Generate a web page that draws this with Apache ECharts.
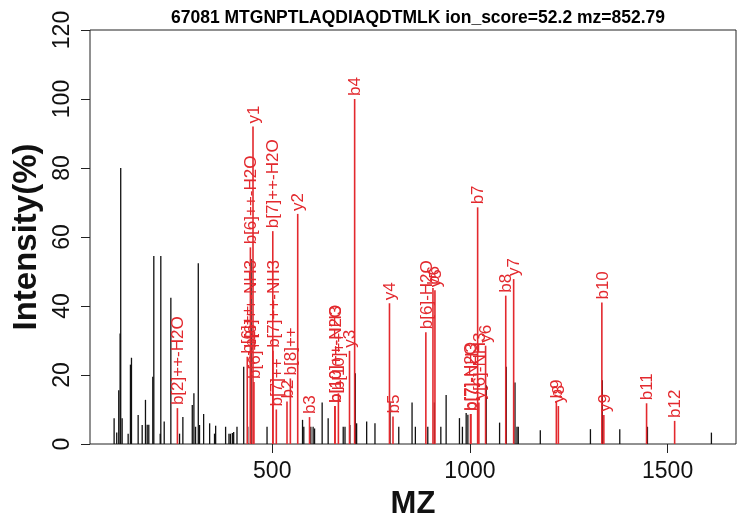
<!DOCTYPE html>
<html>
<head>
<meta charset="UTF-8">
<title>67081 MTGNPTLAQDIAQDTMLK</title>
<script src="https://cdn.jsdelivr.net/npm/echarts@6/dist/echarts.min.js"></script>
<style>
  html, body { margin: 0; padding: 0; background: #fff; }
  #chart { width: 744px; height: 527px; }
</style>
</head>
<body>
<div id="chart"></div>
<script>
// unmatched peaks (black)
var blackMz = [100, 106.6, 111.7, 115.2, 116.7, 120.3, 135.5, 141.3, 143.9, 160.8, 171, 179.3, 183.7, 187.7,
  197.8, 200.4, 216.6, 218.1, 226.7, 243.5, 265.5, 273.9, 297.7, 301.8, 306, 312.9, 316, 326.4, 341.6, 354,
  356.8, 382, 390.5, 394, 399, 402.4, 410.8, 427.8, 438, 446.5, 486.8, 576.6, 579.8, 597.6, 603.4, 607,
  626.2, 641.4, 679.5, 684, 696.4, 710, 713.4, 738.8, 759.8, 797.8, 820, 853.6, 862, 893.4, 910, 926.4,
  939.8, 973.5, 981, 990.5, 994.8, 1041.2, 1075, 1092, 1114, 1119, 1122.3, 1178, 1304.8, 1335, 1379,
  1449, 1610.8];
var blackInt = [7.5, 3.3, 15.6, 32, 80, 7.5, 3, 23, 25, 8.4, 5.5, 12.8, 5.6, 5.6,
  19.5, 54.5, 3, 54.5, 6.5, 42.4, 3, 7.8, 11.3, 14.7, 5, 52.4, 5.5, 8.7, 6, 3,
  5.3, 5, 3, 3, 3.2, 3.5, 5, 22.4, 5, 53.6, 5, 7, 5, 5, 5, 4.5,
  12, 7.5, 5, 5, 5.5, 20.5, 6, 6.5, 6, 12, 5, 12, 5, 5, 12, 5,
  14.2, 7.5, 5, 9, 8.5, 17, 6.2, 22.4, 17.8, 5, 5, 4, 4.3, 18.5, 4.3,
  5, 3.3];

// matched fragment ions (red)
var redMz = [260.1, 436.8, 444.7, 445.2, 451.3, 453.7, 501.3, 501.8, 510.3, 537.3, 545.8, 564.4, 594.3,
  658.3, 658.8, 667.3, 695.4, 708.4, 796.5, 805.4, 888.5, 906.5, 911.5, 1001.5, 1002.5, 1019.5,
  1022.6, 1039.6, 1090.6, 1110.6, 1218.6, 1223.7, 1333.7, 1338.7, 1446.8, 1517.8];
var redInt = [10.4, 25.3, 57, 27, 92, 18, 61.7, 27, 10, 12.3, 19, 66.7, 7.8,
  11, 11, 14.7, 27, 100, 40.8, 8, 32.4, 45.2, 44.6, 8.7, 8.7, 68.6,
  12, 28.5, 43, 47.8, 12.3, 11, 41, 8.4, 11.8, 6.7];
var redLabels = ['b[2]++-H2O', 'b[6]++', 'b[6]++-H2O', 'b[6]++-NH3', 'y1', 'b[6]++', 'b[7]++-H2O', 'b[7]++-NH3',
  'b[7]++', 'b2', 'b[8]++', 'y2', 'b3', 'b[10]++-H2O', 'b[10]++-NH3', 'b[10]++', 'y3', 'b4', 'y4', 'b5',
  'b[6]-H2O', 'b6', 'y5', 'b[7]-H2O', 'b[7]-NH3', 'b7', 'y[6]-NH3', 'y6', 'b8', 'y7', 'b9', 'y8', 'b10',
  'y9', 'b11', 'b12'];

var xTicks = [500, 1000, 1500];

var RED = '#e3292e';
var FONT = '"Liberation Sans", Arial, Helvetica, sans-serif';

function pairs(a, b) {
  var out = [];
  for (var i = 0; i < a.length; i++) out.push([a[i], b[i]]);
  return out;
}

function peak(color, width, withLabel) {
  return function (params, api) {
    var mz = api.value(0), h = api.value(1);
    var p0 = api.coord([mz, 0]);
    var p1 = api.coord([mz, h]);
    var children = [{
      type: 'line',
      shape: { x1: p0[0], y1: p0[1], x2: p1[0], y2: p1[1] },
      style: { stroke: color, lineWidth: width }
    }];
    if (withLabel) {
      children.push({
        type: 'text',
        x: p1[0] + 1, y: p1[1] - 3,
        rotation: Math.PI / 2,
        style: {
          text: redLabels[params.dataIndex],
          fill: color,
          font: '17px ' + FONT,
          textAlign: 'left',
          textVerticalAlign: 'middle'
        }
      });
    }
    return { type: 'group', children: children };
  };
}

var chart = echarts.init(document.getElementById('chart'), null, { renderer: 'canvas' });
chart.setOption({
  animation: false,
  textStyle: { fontFamily: FONT },
  title: {
    text: '67081 MTGNPTLAQDIAQDTMLK ion_score=52.2 mz=852.79',
    left: 413, top: 4, textAlign: 'center',
    textStyle: { fontSize: 17.5, fontWeight: 'bold', color: '#000', fontFamily: FONT }
  },
  grid: {
    left: 90, right: 8, top: 30, bottom: 83,
    show: true, borderColor: '#222', borderWidth: 1, backgroundColor: '#fff'
  },
  xAxis: {
    type: 'value', min: 39, max: 1673,
    name: 'MZ', nameLocation: 'middle', nameGap: 45,
    nameTextStyle: { fontSize: 31, fontWeight: 'bold', color: '#111', fontFamily: FONT },
    axisLine: { show: false },
    splitLine: { show: false },
    axisTick: { show: true, length: 9, customValues: xTicks, lineStyle: { color: '#222' } },
    axisLabel: {
      customValues: xTicks, fontSize: 23, color: '#111', margin: 16, fontFamily: FONT,
      formatter: function (v) { return String(v); }
    }
  },
  yAxis: {
    type: 'value', min: 0, max: 120, interval: 20,
    name: 'Intensity(%)', nameLocation: 'middle', nameGap: 45, nameRotate: 90,
    nameTextStyle: { fontSize: 33, fontWeight: 'bold', color: '#111', fontFamily: FONT },
    axisLine: { show: false },
    splitLine: { show: false },
    axisTick: { show: true, length: 9, lineStyle: { color: '#222' } },
    axisLabel: { rotate: 90, fontSize: 23, color: '#111', margin: 16, fontFamily: FONT }
  },
  series: [{
    type: 'custom',
    renderItem: peak('#111', 1.3, false),
    data: pairs(blackMz, blackInt),
    z: 2
  }, {
    type: 'custom',
    renderItem: peak(RED, 1.6, true),
    data: pairs(redMz, redInt),
    z: 3
  }]
});
</script>
</body>
</html>
